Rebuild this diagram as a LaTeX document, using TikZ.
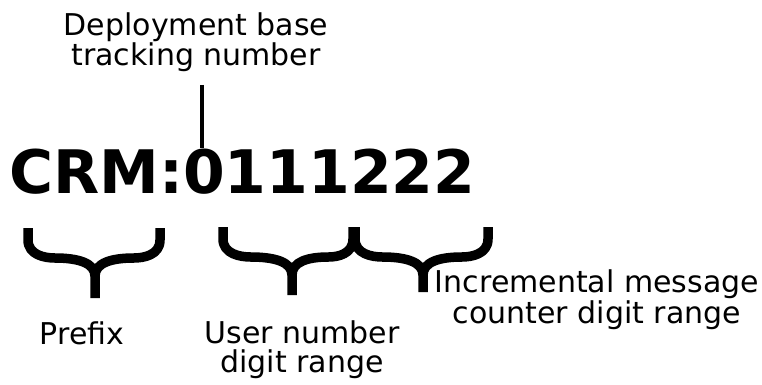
\documentclass[tikz,border=0pt]{standalone}
\usepackage{fontspec}
\setmainfont{DejaVu Sans}
\newcommand\mybrace[5]{% #1 left x, #2 right x, #3 tip x, #4 top y, #5 bottom y
  \pgfmathsetmacro\bL{#1+5}%
  \pgfmathsetmacro\bR{#2-5}%
  \pgfmathsetmacro\bwl{#3-\bL}%
  \pgfmathsetmacro\bwr{\bR-#3}%
  \draw[bracestroke] (\bL,#4) -- (\bL,{#4+12})
    .. controls (\bL,{#4+27}) and ({\bL+0.25*\bwl},{#4+30}) .. ({\bL+0.4*\bwl},{#4+30})
    .. controls ({#3-0.25*\bwl},{#4+30}) and (#3,{#4+35}) .. (#3,{#4+48}) -- (#3,#5);
  \draw[bracestroke] (\bR,#4) -- (\bR,{#4+12})
    .. controls (\bR,{#4+27}) and ({\bR-0.25*\bwr},{#4+30}) .. ({\bR-0.4*\bwr},{#4+30})
    .. controls ({#3+0.25*\bwr},{#4+30}) and (#3,{#4+35}) .. (#3,{#4+48});
}
\begin{document}
\begin{tikzpicture}[x=1pt,y=-1pt,
  lbl/.style={font=\fontsize{30}{29}\selectfont, inner sep=0pt, align=center},
  code/.style={font=\fontsize{60}{60}\selectfont\bfseries, inner sep=0pt},
  bracestroke/.style={line width=9.5pt, line join=round},
  stem/.style={line width=3.5pt}]
\useasboundingbox (0,0) rectangle (762,385);
\node[lbl, anchor=base] (dep) at (196,66) {Deployment base\\tracking number};
\node[code, anchor=base west] (code) at (9,193) {CRM:0111222};
\coordinate (lt) at (202,85);
\coordinate (lb) at (202,148);
\draw[stem] (lt) -- (lb);
\mybrace{23}{165}{95}{228}{298}
\mybrace{218}{358}{292}{227}{295}
\mybrace{350}{493}{423}{227}{292}
\node[lbl, anchor=base] (prefix) at (82,344) {Prefix};
\node[lbl, anchor=base] (user) at (302,372) {User number\\digit range};
\node[lbl, anchor=base] (incr) at (597,323) {Incremental message\\counter digit range};
\end{tikzpicture}
\end{document}
